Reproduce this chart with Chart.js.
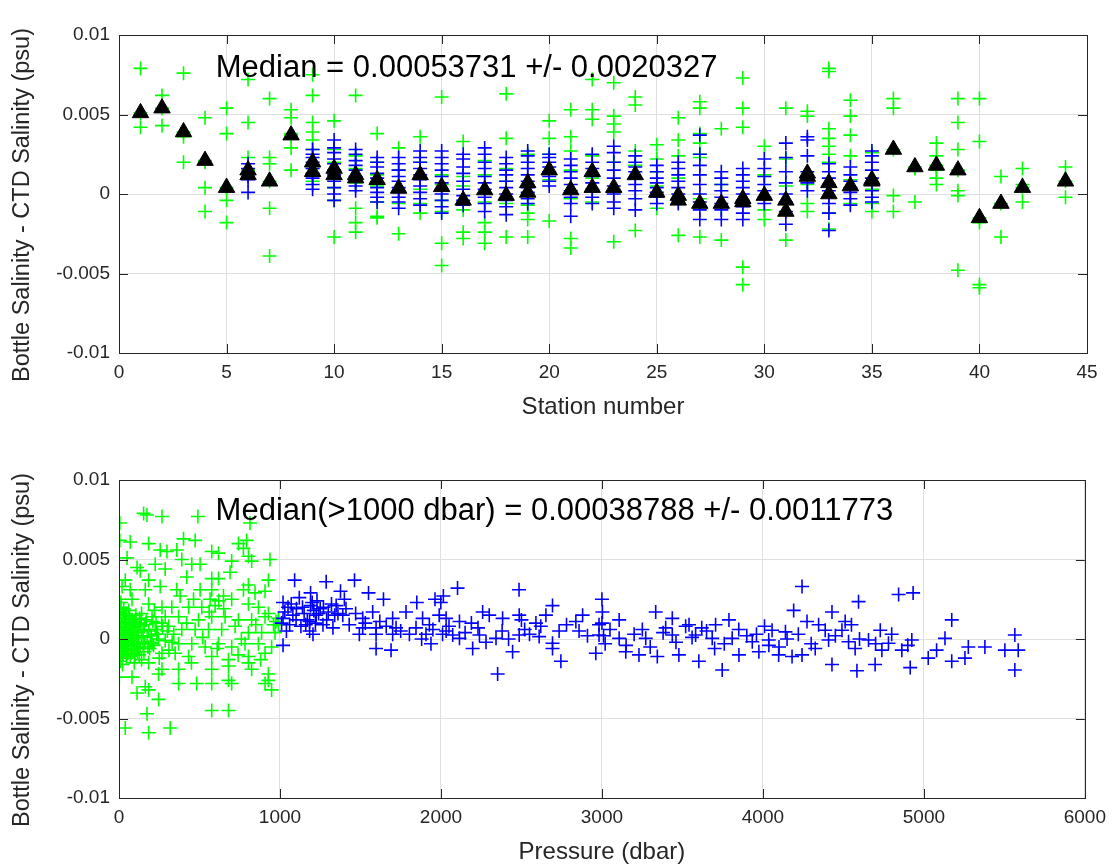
<!DOCTYPE html>
<html>
<head>
<meta charset="utf-8">
<script src="https://cdn.jsdelivr.net/npm/chart.js@4.4.1/dist/chart.umd.min.js"></script>
<style>
  html, body { margin: 0; padding: 0; background: #fff; }
  #wrap { position: relative; width: 1114px; height: 867px; }
  #topBox { position: absolute; left: 0; top: 0; }
  #botBox { position: absolute; left: 0; top: 445px; }
</style>
</head>
<body>
<div id="wrap">
  <div id="topBox"><canvas id="stationChart" width="1114" height="420"></canvas></div>
  <div id="botBox"><canvas id="pressureChart" width="1114" height="422"></canvas></div>
</div>
<script>
/* ===== DATA: by station ===== */
const stations = [1,2,3,4,5,6,7,8,9,10,11,12,13,14,15,16,17,18,19,20,21,22,23,24,25,26,27,28,29,30,31,32,33,34,35,36,37,38,39,40,41,42,43,44];

// bottle - CTD salinity, shallow samples (< 1000 dbar), one list per station
const shallowDiff = [
  [0.0079, 0.0051, 0.0042],
  [0.0062, 0.0054, 0.0043],
  [0.0076, 0.0039, 0.0036, 0.0020],
  [0.0048, 0.0021, 0.0020, 0.0004, -0.0011],
  [0.0054, 0.0038, 0.0004, -0.0004, -0.0018],
  [0.0072, 0.0045, 0.0023, 0.0015],
  [0.0060, 0.0023, 0.0019, 0.0008, -0.0009, -0.0039],
  [0.0053, 0.0048, 0.0038, 0.0037, 0.0029, 0.0015],
  [0.0075, 0.0062, 0.0045, 0.0039, 0.0034, 0.0028, 0.0016, 0.0012, 0.0008],
  [0.0046, 0.0028, 0.0020, 0.0010, 0.0004, -0.0004, -0.0027],
  [0.0062, 0.0024, 0.0016, 0.0007, -0.0009, -0.0018, -0.0024],
  [0.0038, 0.0020, 0.0012, 0.0005, -0.0005, -0.0014, -0.0015],
  [0.0029, 0.0015, 0.0002, -0.0006, -0.0025],
  [0.0036, 0.0020, 0.0010, 0.0003, -0.0006, -0.0012],
  [0.0061, 0.0012, 0.0006, -0.0004, -0.0011, -0.0031, -0.0045],
  [0.0033, 0.0011, 0.0005, -0.0010, -0.0024, -0.0028],
  [0.0021, 0.0012, -0.0005, -0.0018, -0.0024, -0.0031],
  [0.0063, 0.0035, 0.0016, 0.0008, -0.0006, -0.0027],
  [0.0025, 0.0000, -0.0007, -0.0012, -0.0016, -0.0027],
  [0.0046, 0.0035, 0.0025, 0.0009, -0.0017],
  [0.0053, 0.0036, 0.0027, 0.0015, -0.0003, -0.0028, -0.0034],
  [0.0072, 0.0053, 0.0047, 0.0024, 0.0010, -0.0005],
  [0.0070, 0.0049, 0.0044, 0.0039, 0.0020, -0.0030],
  [0.0061, 0.0056, 0.0027, 0.0018, -0.0023],
  [0.0031, 0.0022, 0.0014, 0.0005, -0.0009],
  [0.0048, 0.0034, 0.0024, 0.0010, -0.0005, -0.0026],
  [0.0058, 0.0054, 0.0038, 0.0032, 0.0025, 0.0023, -0.0003, -0.0027],
  [0.0041, 0.0006, -0.0008, -0.0029],
  [0.0073, 0.0054, 0.0042, -0.0046, -0.0057],
  [0.0030, 0.0012, -0.0010, -0.0016],
  [0.0054, 0.0022, 0.0005, -0.0029],
  [0.0052, 0.0049, 0.0006, -0.0006, -0.0011],
  [0.0079, 0.0077, 0.0041, 0.0035, 0.0030, 0.0025, 0.0020, -0.0012, -0.0022],
  [0.0059, 0.0049, 0.0037, 0.0024, 0.0009, -0.0006],
  [0.0026, 0.0003, -0.0006, -0.0011],
  [0.0060, 0.0054, 0.0028, -0.0001, -0.0011],
  [0.0017, 0.0016, -0.0005],
  [0.0032, 0.0024, 0.0018, 0.0015, 0.0010, 0.0006],
  [0.0060, 0.0045, 0.0028, 0.0015, 0.0002, -0.0001, -0.0048],
  [0.0060, 0.0033, -0.0015, -0.0018, -0.0057, -0.0059],
  [0.0011, -0.0006, -0.0027],
  [0.0016, 0.0006, 0.0004, -0.0005],
  [],
  [0.0017, 0.0008, -0.0002]
];

// deep samples (> 1000 dbar)
const deepDiff = [
  [], [], [], [], [],
  [0.0019, 0.0016, 0.0013, 0.0011, 0.0009, 0.0001],
  [], [],
  [0.0028, 0.0025, 0.0023, 0.0020, 0.0018, 0.0016, 0.0013, 0.0010, 0.0006, 0.0003],
  [0.0034, 0.0029, 0.0026, 0.0022, 0.0019, 0.0015, 0.0012, 0.0008, 0.0004, 0.0000, -0.0004],
  [0.0028, 0.0025, 0.0021, 0.0018, 0.0015, 0.0011, 0.0008, 0.0005, 0.0002],
  [0.0023, 0.0020, 0.0017, 0.0013, 0.0010, 0.0007, 0.0004, 0.0001, -0.0002, -0.0005],
  [0.0023, 0.0019, 0.0015, 0.0011, 0.0008, 0.0004, 0.0001, -0.0002, -0.0005, -0.0009],
  [0.0027, 0.0023, 0.0020, 0.0016, 0.0012, 0.0009, 0.0005, 0.0001, -0.0003, -0.0007],
  [0.0027, 0.0023, 0.0019, 0.0015, 0.0011, 0.0007, 0.0003, 0.0000, -0.0004, -0.0008, -0.0012],
  [0.0025, 0.0022, 0.0017, 0.0013, 0.0008, 0.0003, -0.0001, -0.0004, -0.0007],
  [0.0029, 0.0025, 0.0020, 0.0016, 0.0011, 0.0007, 0.0003, -0.0002, -0.0006, -0.0011],
  [0.0023, 0.0019, 0.0015, 0.0012, 0.0008, 0.0004, 0.0000, -0.0004, -0.0008, -0.0013],
  [0.0027, 0.0024, 0.0020, 0.0016, 0.0012, 0.0008, 0.0004, 0.0001, -0.0003, -0.0006],
  [0.0025, 0.0023, 0.0020, 0.0017, 0.0014, 0.0011, 0.0008, 0.0005],
  [0.0022, 0.0018, 0.0014, 0.0010, 0.0006, 0.0002, -0.0002, -0.0006, -0.0014],
  [0.0025, 0.0020, 0.0016, 0.0011, 0.0007, 0.0003, -0.0002, -0.0006],
  [0.0030, 0.0026, 0.0020, 0.0015, 0.0010, 0.0005, 0.0000, -0.0005, -0.0009],
  [0.0024, 0.0020, 0.0017, 0.0014, 0.0010, 0.0006, 0.0002, -0.0003, -0.0010],
  [0.0018, 0.0014, 0.0010, 0.0007, 0.0004, 0.0001, -0.0002, -0.0006],
  [0.0020, 0.0016, 0.0012, 0.0008, 0.0004, 0.0000, -0.0003, -0.0006],
  [0.0037, 0.0025, 0.0018, 0.0012, 0.0006, 0.0000, -0.0005, -0.0010, -0.0016],
  [0.0014, 0.0010, 0.0006, 0.0002, -0.0002, -0.0006, -0.0010, -0.0016],
  [0.0016, 0.0012, 0.0008, 0.0004, 0.0000, -0.0004, -0.0008, -0.0012, -0.0016],
  [0.0022, 0.0016, 0.0011, 0.0006, 0.0002, -0.0002, -0.0006],
  [0.0032, 0.0023, 0.0014, 0.0007, 0.0000, -0.0005, -0.0011, -0.0019],
  [0.0036, 0.0034, 0.0024, 0.0014, 0.0007, 0.0002],
  [0.0019, 0.0014, 0.0010, 0.0006, 0.0002, -0.0002, -0.0006, -0.0012, -0.0023],
  [0.0017, 0.0012, 0.0008, 0.0004, 0.0001, -0.0003, -0.0007],
  [0.0027, 0.0024, 0.0020, 0.0015, 0.0010, 0.0006, 0.0002, -0.0002, -0.0005],
  [], [], [], [], [], [], [], [], []
];

// station medians (black triangles), second cast where there was one
const medianDiff = [0.0051, 0.0054, 0.0039, 0.0021, 0.0004, 0.0015, 0.0008, 0.0037, 0.0020, 0.0016,
  0.0012, 0.0009, 0.00035, 0.0012, 0.00045, -0.0004, 0.00025, -0.0001, 0.0007, 0.0015,
  0.00025, 0.0014, 0.0004, 0.0012, 0.0001, -0.0001, -0.0006, -0.0006, -0.0005, -0.0001,
  -0.0004, 0.0011, 0.0007, 0.0005, 0.0008, 0.0028, 0.0017, 0.0018, 0.0015, -0.0015,
  -0.0006, 0.0004, null, 0.0008];
const medianDiff2 = [null, null, null, null, null, 0.0012, null, null, 0.0014, 0.0012,
  0.0010, null, null, null, null, null, null, null, 0.0001, null,
  null, 0.0004, null, null, null, -0.0004, null, null, -0.0003, null,
  -0.0011, 0.0013, 0.0000, null, 0.0009, null, null, null, null, null,
  null, null, null, null];

/* ===== DATA: by pressure ===== */
const shallowPres = [153, 174, 267, 490, 814, 5, 5, 70, 184, 473, 401, 793, 773, 742, 256, 298, 359, 576, 618, 804,
  824, 938, 50, 112, 132, 225, 287, 390, 452, 504, 421, 700, 690, 576, 618, 184, 39, 19, 70, 163,
  256, 359, 504, 576, 804, 773, 928, 907, 845, 380, 463, 566, 649, 700, 2, 81, 184, 267, 328, 432,
  514, 597, 804, 866, 928, 10, 25, 40, 55, 70, 90, 110, 130, 20, 45, 60, 80, 100, 120, 140,
  160, 30, 15, 5, 50, 75, 95, 35, 65, 85, 105, 125, 150, 170, 180, 200, 8, 12, 3, 18,
  28, 42, 58, 68, 88, 98, 115, 135, 205, 287, 370, 494, 576, 659, 742, 824, 907, 225, 308, 390,
  473, 556, 638, 721, 804, 886, 969, 205, 287, 370, 452, 535, 618, 700, 783, 866, 948, 267, 349, 432,
  576, 680, 804, 907, 184, 267, 370, 576, 680, 824, 928, 81, 246, 804, 2, 163, 370, 483, 576, 680,
  700, 907, 928, 948, 112, 184, 246, 576, 680, 174, 39, 184, 318, 975, 990, 960,
  5, 10, 15, 20, 25, 30, 35, 40, 45, 50, 55, 60, 65, 70, 75, 80, 85, 90, 95, 100,
  110, 120, 130, 140, 150, 3, 8, 12, 22, 33, 230, 310, 420, 520, 610, 650, 760, 850, 880, 990,
  340, 450, 560, 620, 740,
  160, 175, 190, 210, 235, 250, 270, 140, 195, 220, 245, 265, 155, 185, 215, 240, 118, 128, 300, 330];
const shallowProf = [0.0079, 0.0078, 0.0077, 0.0077, 0.0073, 0.0073, 0.0062, 0.0061, 0.0060, 0.0062,
  0.0063, 0.0062, 0.0057, 0.0060, 0.0056, 0.0055, 0.0056, 0.0055, 0.0054, 0.0052,
  0.0049, 0.0050, 0.0051, 0.0045, 0.0043, 0.0047, 0.0044, 0.0050, 0.0047, 0.0047,
  0.0039, 0.0049, 0.0042, 0.0038, 0.0038, 0.0037, 0.0037, 0.0033, 0.0031, 0.0031,
  0.0033, 0.0031, 0.0031, 0.0031, 0.0034, 0.0031, 0.0037, 0.0030, 0.0029, 0.0027,
  0.0025, 0.0025, 0.0027, 0.0025, 0.0025, 0.0025, 0.0022, 0.0020, 0.0020, 0.0020,
  0.0020, 0.0021, 0.0022, 0.0020, 0.0016, 0.0020, 0.0015, 0.0010, 0.0006, 0.0003,
  0.0000, -0.0003, -0.0006, -0.0008, -0.0012, 0.0018, 0.0012, 0.0008, 0.0004, 0.0001,
  -0.0002, 0.0002, -0.0002, 0.0005, -0.0004, -0.0009, -0.0015, 0.0013, 0.0009, -0.0001,
  0.0015, -0.0010, 0.0006, 0.0012, -0.0005, 0.0002, 0.0010, -0.0005, -0.0011, 0.0008,
  -0.0003, 0.0004, -0.0007, -0.0001, 0.0005, 0.0011, -0.0008, 0.0009, 0.0014, 0.0014,
  0.0014, 0.0012, 0.0014, 0.0014, 0.0012, 0.0012, 0.0014, 0.0006, 0.0008, 0.0006,
  0.0006, 0.0006, 0.0006, 0.0008, 0.0004, 0.0004, 0.0004, -0.0003, -0.0001, -0.0003,
  -0.0003, -0.0005, -0.0003, -0.0005, -0.0003, -0.0003, -0.0005, -0.0009, -0.0009, -0.0011,
  -0.0011, -0.0013, -0.0011, -0.0009, -0.0015, -0.0019, -0.0019, -0.0019, -0.0017, -0.0019,
  -0.0022, -0.0024, -0.0022, -0.0015, -0.0024, -0.0030, -0.0028, -0.0028, -0.0028, -0.0026,
  -0.0028, -0.0028, -0.0026, -0.0032, -0.0034, -0.0032, -0.0038, -0.0045, -0.0045, -0.0047,
  -0.0056, -0.0059, -0.0056, 0.0011, 0.0013, 0.0009,
  0.0017, 0.0011, 0.0003, -0.0004, -0.0010, 0.0019, 0.0007, -0.0002, 0.0016, 0.0002,
  -0.0009, -0.0003, 0.0014, -0.0011, 0.0004, -0.0006, 0.0010, 0.0007, -0.0004, -0.0010,
  0.0001, -0.0005, 0.0010, -0.0013, -0.0003, 0.0001, -0.0014, 0.0023, -0.0016, -0.0006,
  0.0010, -0.0007, 0.0010, 0.0001, -0.0006, 0.0019, 0.0000, 0.0009, -0.0013, 0.0009,
  0.0003, -0.0015, 0.0017, 0.0024, -0.0010,
  0.0009, 0.0002, -0.0006, 0.0011, 0.0003, -0.0012, 0.0008, 0.0016, -0.0002, 0.0018,
  0.0000, 0.0010, -0.0008, 0.0005, -0.0004, 0.0003, 0.0002, 0.0013, 0.0005, -0.0002];

const deepPres = [1091, 1287, 1463, 1190, 1376, 1550, 1643, 1850, 1963, 2015, 1019, 1102, 1190, 1225, 1349, 1390, 1514, 1576, 1700, 1783,
  1886, 1989, 1019, 1060, 1184, 1267, 1329, 1514, 1597, 1721, 1845, 1928, 1493, 1597, 1700, 1804, 1907, 2010, 1019, 1205,
  1597, 1690, 1938, 1184, 1040, 1150, 1210, 1230, 1170, 1250, 1080, 1130, 1300, 1400, 1360, 1050, 1120,
  2103, 2485, 3000, 1999, 2693, 2259, 2300, 2486, 2652, 2880, 3003, 3334, 3107, 3437, 3541, 2032, 2115, 2189, 2383, 2590,
  2838, 3251, 3396, 3706, 3789, 2032, 2115, 2239, 2342, 2486, 2610, 2734, 2858, 2982, 3107, 3272, 3437, 3582, 3685, 3809,
  3934, 4037, 2197, 2445, 2693, 2962, 3148, 3230, 3344, 3478, 3602, 3747, 2352, 2745, 3851, 3975, 2073, 2693, 2982,
  2500, 2520, 3000, 3010, 3020, 2150, 2420, 3150, 3520, 3650, 3900, 3700,
  4243, 4843, 4933, 4594, 4191, 4429, 5173, 4274, 4346, 4511, 4387, 4491, 4729, 4057, 4140, 5565, 5131, 4925, 4656, 4408,
  4036, 5276, 5379, 5503, 5586, 4573, 4739, 4863, 4098, 4243, 5027, 5173, 5255, 4429, 4584, 4697, 4915, 5565, 5079, 4780,
  4325, 4181, 4532, 4450, 4600, 4700, 4800, 4900, 4100, 4300, 4550,
  1010, 1030, 1070, 1100, 1140, 1160, 1200, 1220, 1240, 1270, 1290, 1320, 1340, 1410, 1430, 1470, 1530, 1620, 1660, 1750,
  1880, 1950, 2050, 2230, 2280, 2380, 2550, 2620, 2780, 2910, 3050, 3200, 3300, 3380, 3460, 3560, 3620, 3760, 3850, 3960,
  4010, 4150, 4220];
const deepProf = [0.0037, 0.0036, 0.0037, 0.0029, 0.0030, 0.0029, 0.0025, 0.0023, 0.0025, 0.0027,
  0.0023, 0.0019, 0.0021, 0.0015, 0.0021, 0.0015, 0.0013, 0.0017, 0.0013, 0.0017,
  0.0013, 0.0015, 0.0013, 0.0009, 0.0011, 0.0009, 0.0007, 0.0007, 0.0007, 0.0007,
  0.0007, 0.0009, 0.0003, 0.0003, 0.0003, 0.0003, 0.0003, 0.0003, -0.0004, 0.0003,
  -0.0006, -0.0007, -0.0003, 0.0005, 0.0005, 0.0016, 0.0018, 0.0024, 0.0012, 0.0019,
  0.0015, 0.0008, 0.0017, 0.0025, 0.0016, 0.0020, 0.0026,
  0.0032, 0.0031, 0.0025, 0.0023, 0.0021, 0.0017, 0.0015, 0.0015, 0.0015, 0.0015,
  0.0017, 0.0017, 0.0012, 0.0013, 0.0009, 0.0013, 0.0011, 0.0010, 0.0013, 0.0010,
  0.0011, 0.0006, 0.0007, 0.0009, 0.0012, 0.0005, 0.00004, 0.00025, 0.00004, 0.00025,
  0.00015, 0.0005, 0.0005, 0.00025, 0.00004, 0.00004, 0.00025, 0.00025, 0.00004, 0.00004,
  -0.00017, -0.0004, -0.0006, -0.0008, -0.0006, -0.0009, -0.0008, -0.0010, -0.0011, -0.0010,
  -0.0014, -0.00195, -0.0022, -0.0014, -0.0010, -0.0008, 0.00025, -0.00027, 0.0009,
  0.0012, 0.0006, 0.0010, 0.0002, -0.0003, 0.0004, 0.0000, -0.0004, 0.0008, 0.0005, 0.0002, -0.0006,
  0.0033, 0.0028, 0.0029, 0.00235, 0.0018, 0.0017, 0.0012, 0.0011, 0.0009, 0.0011,
  0.00055, 0.00055, 0.00055, 0.00055, 0.00045, 0.00025, 0.00004, -0.00006, -0.00006, -0.00006,
  -0.00006, -0.0005, -0.0005, -0.0007, -0.0007, -0.0006, -0.0007, -0.0007, -0.0010, -0.0010,
  -0.0012, -0.0014, -0.0012, -0.0016, -0.0020, -0.0016, -0.0018, -0.00195, -0.0007, -0.00027,
  -0.0006, -0.0011, -0.00017, 0.0002, 0.0000, -0.0003, 0.0003, -0.0004, -0.0005, -0.0003, 0.0009,
  0.0010, 0.0017, 0.0022, 0.0012, 0.0020, 0.0009, 0.0023, 0.0010, 0.0016, 0.0020,
  0.0012, 0.0022, 0.0015, 0.0019, 0.0009, 0.0016, 0.0010, 0.0011, 0.0008, 0.0005,
  0.0000, 0.0006, 0.0008, 0.0007, -0.0002, 0.0005, 0.0003, 0.0008, 0.0009, 0.0002,
  0.0006, 0.0003, -0.0005, 0.0004, -0.0002, 0.0001, 0.0007, -0.0003, 0.0006, 0.0003,
  0.0008, 0.0000, 0.0003];

/* ===== TICKS / LABELS ===== */
const yTickLabels = ["-0.01", "-0.005", "0", "0.005", "0.01"];
const stationTicks = ["0", "5", "10", "15", "20", "25", "30", "35", "40", "45"];
const pressureTicks = ["0", "1000", "2000", "3000", "4000", "5000", "6000"];
const yTitle = "Bottle Salinity - CTD Salinity (psu)";
const topNote = "Median = 0.00053731 +/- 0.0020327";
const bottomNote = "Median(>1000 dbar) = 0.00038788 +/- 0.0011773";

/* ===== BUILD POINTS ===== */
const topShallow = [], topDeep = [], topMed = [], topMed2 = [];
stations.forEach((s, i) => {
  shallowDiff[i].forEach(v => topShallow.push({ x: s, y: v }));
  deepDiff[i].forEach(v => topDeep.push({ x: s, y: v }));
  if (medianDiff[i] !== null) topMed.push({ x: s, y: medianDiff[i] });
  if (medianDiff2[i] !== null) topMed2.push({ x: s, y: medianDiff2[i] });
});
const botShallow = shallowPres.map((p, i) => ({ x: p, y: shallowProf[i] }));
const botDeep = deepPres.map((p, i) => ({ x: p, y: deepProf[i] }));

/* ===== STYLE ===== */
const FONT = "'Liberation Sans', Arial, Helvetica, sans-serif";
const AXIS_COLOR = "#262626";
const GRID_COLOR = "#dfdfdf";

function crossSet(data, color) {
  return {
    data, pointStyle: "cross", pointRadius: 7, pointHoverRadius: 7,
    borderColor: color, backgroundColor: color, pointBorderWidth: 1.6, showLine: false
  };
}
function triSet(data) {
  return {
    data, pointStyle: "triangle", pointRadius: 9.5, pointHoverRadius: 9.5,
    borderColor: "#000", backgroundColor: "#000", pointBorderWidth: 1, showLine: false
  };
}

/* frame box, inward tick marks, y title and the median text */
const framePlugin = {
  id: "frame",
  afterDraw(chart, args, opts) {
    const { ctx, chartArea: a, scales: { x, y } } = chart;
    ctx.save();
    ctx.strokeStyle = AXIS_COLOR;
    ctx.lineWidth = 1;
    ctx.strokeRect(Math.round(a.left) + 0.5, Math.round(a.top) + 0.5, Math.round(a.width), Math.round(a.height));
    ctx.beginPath();
    x.ticks.forEach(t => {
      const px = Math.round(x.getPixelForValue(t.value)) + 0.5;
      ctx.moveTo(px, a.bottom); ctx.lineTo(px, a.bottom - 9);
      ctx.moveTo(px, a.top); ctx.lineTo(px, a.top + 9);
    });
    y.ticks.forEach(t => {
      const py = Math.round(y.getPixelForValue(t.value)) + 0.5;
      ctx.moveTo(a.left, py); ctx.lineTo(a.left + 9, py);
      ctx.moveTo(a.right, py); ctx.lineTo(a.right - 9, py);
    });
    ctx.stroke();

    // y axis title, sits a little below the plot centre like the original
    ctx.save();
    ctx.translate(23, (a.top + a.bottom) / 2 + 11);
    ctx.rotate(-Math.PI / 2);
    ctx.fillStyle = AXIS_COLOR;
    ctx.font = "23.5px " + FONT;
    ctx.textAlign = "center";
    ctx.textBaseline = "middle";
    ctx.fillText(yTitle, 0, 0);
    ctx.restore();

    ctx.fillStyle = "#000";
    ctx.font = "31px " + FONT;
    ctx.textBaseline = "middle";
    ctx.textAlign = "left";
    ctx.fillText(opts.text, x.getPixelForValue(opts.x), y.getPixelForValue(opts.y));
    ctx.restore();
  }
};

function makeOptions(xMin, xMax, xStep, xLabels, xTitle, xHeight, xTitlePad, note) {
  return {
    responsive: false,
    animation: false,
    events: [],
    layout: { padding: { top: 35, right: 27, left: 0, bottom: 0 } },
    plugins: {
      legend: { display: false },
      tooltip: { enabled: false },
      frame: note
    },
    scales: {
      x: {
        type: "linear", min: xMin, max: xMax,
        ticks: {
          stepSize: xStep, padding: 8, color: AXIS_COLOR,
          font: { family: FONT, size: 19 },
          callback: (v, i) => xLabels[i]
        },
        grid: { color: GRID_COLOR, drawTicks: false },
        border: { display: false },
        title: { display: true, text: xTitle, color: AXIS_COLOR, font: { family: FONT, size: 24, lineHeight: 1 }, padding: { top: 0, bottom: xTitlePad } },
        afterFit: s => { s.height = xHeight; }
      },
      y: {
        type: "linear", min: -0.01, max: 0.01,
        ticks: {
          stepSize: 0.005, padding: 9, color: AXIS_COLOR,
          font: { family: FONT, size: 19 },
          callback: (v, i) => yTickLabels[i]
        },
        grid: { color: GRID_COLOR, drawTicks: false },
        border: { display: false },
        afterFit: s => { s.width = 119; }
      }
    }
  };
}

/* ===== CHARTS ===== */
new Chart(document.getElementById("stationChart"), {
  type: "scatter",
  data: {
    datasets: [
      triSet(topMed),
      triSet(topMed2),
      crossSet(topDeep, "#0000ff"),
      crossSet(topShallow, "#00ff00")
    ]
  },
  options: makeOptions(0, 45, 5, stationTicks, "Station number", 67, 1, { text: topNote, x: 4.5, y: 0.0079 }),
  plugins: [framePlugin]
});

new Chart(document.getElementById("pressureChart"), {
  type: "scatter",
  data: {
    datasets: [
      crossSet(botDeep, "#0000ff"),
      crossSet(botShallow, "#00ff00")
    ]
  },
  options: makeOptions(0, 6000, 1000, pressureTicks, "Pressure (dbar)", 69, 3, { text: bottomNote, x: 600, y: 0.008 }),
  plugins: [framePlugin]
});
</script>
</body>
</html>
